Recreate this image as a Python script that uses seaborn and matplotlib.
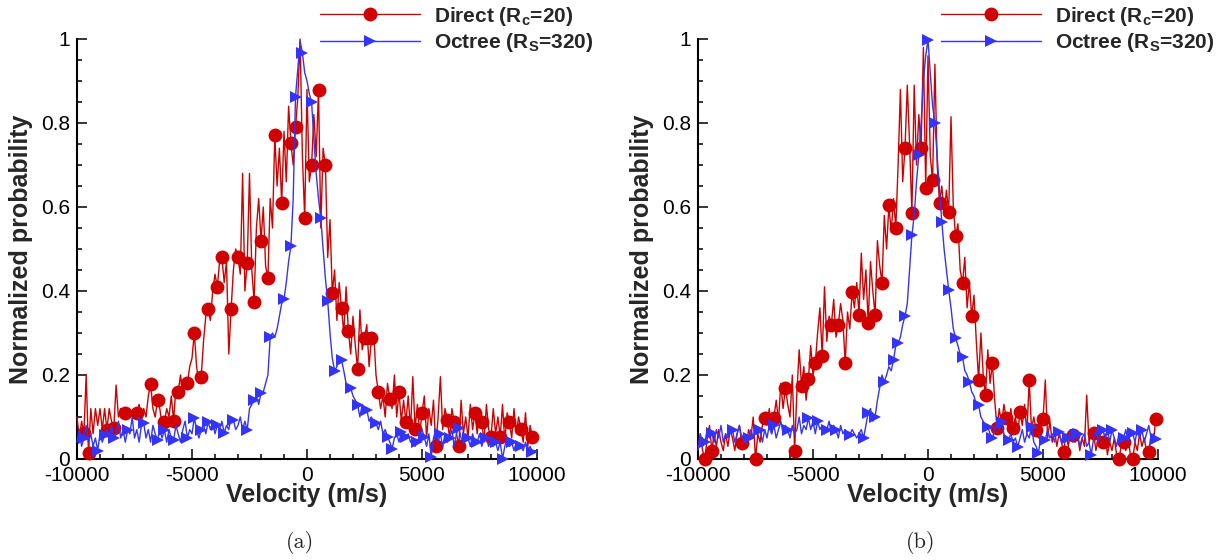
import numpy as np
import matplotlib
matplotlib.use("Agg")
import matplotlib.pyplot as plt
from matplotlib.lines import Line2D
from matplotlib.ticker import MultipleLocator, FuncFormatter
import seaborn as sns

# Velocity bins (m/s), 100 m/s apart
VELOCITY = np.linspace(-10000, 10000, 201)

# Panel (a): normalized velocity distributions
DIRECT_A = [
    0.10, 0.05, 0.09, 0.062, 0.20, 0.015, 0.12, 0.06, 0.12, 0.08,
    0.12, 0.07, 0.12, 0.069, 0.12, 0.09, 0.073, 0.176, 0.10, 0.12,
    0.11, 0.11, 0.12, 0.10, 0.11, 0.12, 0.11, 0.13, 0.09, 0.12,
    0.10, 0.15, 0.179, 0.12, 0.10, 0.14, 0.12, 0.08, 0.089, 0.12,
    0.10, 0.15, 0.09, 0.17, 0.16, 0.20, 0.15, 0.19, 0.18, 0.22,
    0.24, 0.30, 0.22, 0.18, 0.196, 0.28, 0.34, 0.357, 0.33, 0.40,
    0.44, 0.41, 0.47, 0.48, 0.42, 0.47, 0.25, 0.357, 0.45, 0.50,
    0.48, 0.44, 0.68, 0.40, 0.466, 0.68, 0.45, 0.375, 0.55, 0.62,
    0.52, 0.60, 0.46, 0.43, 0.62, 0.55, 0.771, 0.65, 0.74, 0.61,
    0.78, 0.66, 0.84, 0.752, 0.70, 0.79, 0.86, 1.00, 0.72, 0.574,
    0.88, 0.66, 0.70, 0.82, 0.72, 0.879, 0.55, 0.74, 0.70, 0.48,
    0.57, 0.395, 0.45, 0.33, 0.42, 0.36, 0.30, 0.41, 0.305, 0.25,
    0.34, 0.27, 0.214, 0.355, 0.26, 0.288, 0.32, 0.22, 0.288, 0.30,
    0.20, 0.16, 0.12, 0.15, 0.10, 0.18, 0.143, 0.12, 0.20, 0.10,
    0.16, 0.09, 0.14, 0.088, 0.15, 0.07, 0.196, 0.071, 0.13, 0.06,
    0.11, 0.15, 0.05, 0.12, 0.08, 0.14, 0.03, 0.10, 0.196, 0.07,
    0.12, 0.093, 0.05, 0.12, 0.088, 0.06, 0.03, 0.14, 0.06, 0.10,
    0.05, 0.13, 0.07, 0.11, 0.06, 0.12, 0.088, 0.04, 0.13, 0.07,
    0.052, 0.12, 0.06, 0.10, 0.052, 0.13, 0.04, 0.11, 0.088, 0.05,
    0.12, 0.06, 0.10, 0.071, 0.04, 0.11, 0.03, 0.08, 0.052, 0.04,
    0.05,
]
OCTREE_A = [
    0.04, 0.07, 0.03, 0.05, 0.08, 0.04, 0.06, 0.03, 0.05, 0.02,
    0.06, 0.04, 0.057, 0.07, 0.05, 0.08, 0.05, 0.06, 0.09, 0.05,
    0.07, 0.04, 0.069, 0.06, 0.10, 0.05, 0.07, 0.04, 0.08, 0.085,
    0.05, 0.07, 0.04, 0.08, 0.06, 0.045, 0.07, 0.05, 0.069, 0.04,
    0.07, 0.05, 0.045, 0.08, 0.06, 0.04, 0.07, 0.09, 0.05, 0.07,
    0.06, 0.098, 0.07, 0.05, 0.07, 0.08, 0.06, 0.088, 0.07, 0.09,
    0.06, 0.08, 0.07, 0.09, 0.062, 0.08, 0.07, 0.10, 0.093, 0.07,
    0.08, 0.10, 0.07, 0.09, 0.069, 0.12, 0.13, 0.14, 0.15, 0.13,
    0.157, 0.16, 0.18, 0.20, 0.29, 0.30, 0.29, 0.31, 0.34, 0.37,
    0.38, 0.42, 0.47, 0.507, 0.62, 0.862, 0.93, 0.995, 0.967, 0.92,
    0.90, 0.87, 0.85, 0.76, 0.68, 0.62, 0.574, 0.50, 0.43, 0.376,
    0.30, 0.24, 0.21, 0.22, 0.24, 0.235, 0.21, 0.18, 0.16, 0.17,
    0.15, 0.14, 0.128, 0.10, 0.13, 0.11, 0.117, 0.09, 0.10, 0.08,
    0.085, 0.07, 0.09, 0.06, 0.07, 0.053, 0.04, 0.025, 0.05, 0.06,
    0.04, 0.065, 0.05, 0.052, 0.06, 0.04, 0.05, 0.03, 0.04, 0.06,
    0.07, 0.052, 0.03, 0.06, 0.005, 0.05, 0.07, 0.04, 0.06, 0.03,
    0.06, 0.04, 0.05, 0.07, 0.03, 0.06, 0.074, 0.05, 0.04, 0.06,
    0.05, 0.03, 0.06, 0.04, 0.04, 0.06, 0.03, 0.05, 0.05, 0.03,
    0.05, 0.03, 0.04, 0.02, 0.04, 0.0, 0.03, 0.05, 0.03, 0.04,
    0.02, 0.04, 0.03, 0.03, 0.02, 0.04, 0.02, 0.03, 0.017, 0.02,
    0.02,
]

# Panel (b)
DIRECT_B = [
    0.03, 0.06, 0.02, 0.0, 0.05, 0.08, 0.02, 0.06, 0.03, 0.07,
    0.04, 0.02, 0.06, 0.03, 0.07, 0.05, 0.02, 0.06, 0.08, 0.038,
    0.06, 0.03, 0.07, 0.05, 0.10, 0.0, 0.06, 0.04, 0.08, 0.098,
    0.08, 0.12, 0.06, 0.098, 0.14, 0.09, 0.18, 0.12, 0.17, 0.13,
    0.10, 0.20, 0.02, 0.16, 0.26, 0.175, 0.22, 0.14, 0.19, 0.27,
    0.20, 0.228, 0.30, 0.36, 0.245, 0.41, 0.28, 0.34, 0.32, 0.38,
    0.29, 0.32, 0.37, 0.33, 0.228, 0.35, 0.31, 0.398, 0.36, 0.42,
    0.343, 0.49, 0.38, 0.45, 0.323, 0.47, 0.40, 0.343, 0.52, 0.46,
    0.42, 0.58, 0.50, 0.605, 0.54, 0.62, 0.55, 0.70, 0.88, 0.66,
    0.74, 0.89, 0.75, 0.585, 0.89, 0.70, 0.82, 0.74, 0.98, 0.645,
    0.96, 0.72, 0.664, 0.94, 0.70, 0.61, 0.65, 0.58, 0.64, 0.588,
    0.815, 0.60, 0.53, 0.56, 0.45, 0.418, 0.48, 0.36, 0.42, 0.34,
    0.39, 0.28, 0.188, 0.30, 0.20, 0.152, 0.26, 0.18, 0.228, 0.14,
    0.074, 0.12, 0.08, 0.13, 0.098, 0.07, 0.12, 0.074, 0.10, 0.06,
    0.112, 0.08, 0.13, 0.06, 0.188, 0.07, 0.10, 0.069, 0.05, 0.08,
    0.095, 0.188, 0.05, 0.09, 0.04, 0.07, 0.03, 0.06, 0.04, 0.017,
    0.06, 0.03, 0.07, 0.057, 0.04, 0.06, 0.02, 0.05, 0.03, 0.152,
    0.04, 0.06, 0.062, 0.02, 0.05, 0.03, 0.04, 0.06, 0.01, 0.04,
    0.02, 0.05, 0.01, 0.0, 0.03, 0.04, 0.02, 0.05, 0.01, 0.0,
    0.04, 0.02, 0.06, 0.03, 0.05, 0.02, 0.017, 0.06, 0.04, 0.095,
    0.08,
]
OCTREE_B = [
    0.02, 0.06, 0.03, 0.04, 0.07, 0.05, 0.062, 0.04, 0.07, 0.05,
    0.08, 0.04, 0.06, 0.05, 0.07, 0.069, 0.04, 0.06, 0.08, 0.05,
    0.06, 0.04, 0.05, 0.07, 0.05, 0.08, 0.06, 0.069, 0.04, 0.07,
    0.05, 0.08, 0.06, 0.08, 0.05, 0.07, 0.09, 0.06, 0.08, 0.07,
    0.05, 0.08, 0.06, 0.07, 0.10, 0.06, 0.08, 0.07, 0.098, 0.07,
    0.09, 0.06, 0.09, 0.07, 0.08, 0.06, 0.069, 0.09, 0.06, 0.08,
    0.07, 0.05, 0.08, 0.06, 0.07, 0.05, 0.057, 0.07, 0.06, 0.05,
    0.06, 0.07, 0.05, 0.08, 0.11, 0.12, 0.09, 0.10, 0.14, 0.17,
    0.20, 0.184, 0.20, 0.22, 0.21, 0.236, 0.27, 0.276, 0.29, 0.32,
    0.34, 0.37, 0.45, 0.533, 0.58, 0.66, 0.723, 0.80, 0.90, 0.96,
    0.998, 0.92, 0.84, 0.80, 0.72, 0.64, 0.565, 0.50, 0.45, 0.402,
    0.36, 0.31, 0.288, 0.27, 0.25, 0.243, 0.21, 0.20, 0.184, 0.16,
    0.15, 0.13, 0.128, 0.10, 0.09, 0.08, 0.076, 0.06, 0.05, 0.07,
    0.09, 0.07, 0.088, 0.06, 0.05, 0.045, 0.06, 0.04, 0.05, 0.029,
    0.05, 0.07, 0.04, 0.06, 0.05, 0.076, 0.04, 0.03, 0.014, 0.05,
    0.04, 0.045, 0.07, 0.05, 0.06, 0.04, 0.07, 0.064, 0.04, 0.06,
    0.05, 0.05, 0.07, 0.04, 0.06, 0.06, 0.03, 0.05, 0.06, 0.03,
    0.04, 0.01, 0.05, 0.07, 0.04, 0.06, 0.069, 0.05, 0.07, 0.04,
    0.069, 0.05, 0.03, 0.06, 0.04, 0.05, 0.07, 0.04, 0.06, 0.062,
    0.04, 0.07, 0.05, 0.069, 0.04, 0.06, 0.08, 0.05, 0.06, 0.048,
    0.05,
]

# Velocities (m/s) at which symbols are drawn on each curve
DIRECT_A_MARKS = [-9700, -9500, -8700, -8400, -7900, -7400, -6800, -6500, -6200,
                  -5800, -5600, -5200, -4900, -4600, -4300, -3900, -3700, -3300,
                  -3000, -2600, -2300, -2000, -1700, -1400, -1100, -700, -500,
                  -100, 200, 500, 800, 1100, 1500, 1800, 2200, 2500, 2800, 3100,
                  3600, 4000, 4300, 4700, 5000, 5600, 6100, 6400, 6600, 7300,
                  7600, 8000, 8400, 8800, 9300, 9800]
OCTREE_A_MARKS = [-9700, -9100, -8800, -8400, -7800, -7100, -6500, -6200, -5800,
                  -5200, -4900, -4600, -4300, -3900, -3600, -3200, -2600, -2300,
                  -2000, -1600, -1000, -700, -500, -200, 200, 600, 900, 1200,
                  1500, 1900, 2200, 2600, 3000, 3500, 3700, 4100, 4300, 4800,
                  5100, 5400, 5800, 6200, 6600, 7000, 7400, 7800, 8200, 8500,
                  8900, 9300, 9800]
DIRECT_B_MARKS = [-9700, -9400, -8100, -7500, -7100, -6700, -6200, -5800, -5500,
                  -5200, -4900, -4600, -4200, -3900, -3600, -3300, -3000, -2600,
                  -2300, -2000, -1700, -1400, -1000, -700, -300, -100, 200, 500,
                  900, 1200, 1500, 1900, 2200, 2500, 2800, 3000, 3400, 3700,
                  4000, 4400, 4700, 5000, 5900, 6300, 7200, 7600, 8300, 8500,
                  8900, 9600, 9900]
OCTREE_B_MARKS = [-9700, -9400, -8500, -7800, -7300, -6700, -6100, -5200, -4800,
                  -4400, -4000, -3400, -2800, -2600, -2300, -1900, -1500, -1300,
                  -1000, -700, -400, 0, 300, 600, 900, 1200, 1500, 1800, 2200,
                  2600, 2800, 3200, 3500, 3900, 4500, 4800, 5100, 5700, 6100,
                  6500, 7100, 7600, 8000, 8500, 8900, 9300, 9900]

LABEL_DIRECT = r"Direct (R$_\mathbf{c}$=20)"
LABEL_OCTREE = r"Octree (R$_\mathbf{S}$=320)"
PANEL_TAGS = ["(a)", "(b)"]

RED = "#D00000"
BLUE = "#3434F8"

sns.set_theme(style="ticks")
plt.rcParams["font.family"] = ["Liberation Sans", "DejaVu Sans"]
plt.rcParams["mathtext.fontset"] = "custom"
plt.rcParams["mathtext.bf"] = "Liberation Sans:bold"
plt.rcParams["mathtext.rm"] = "Liberation Sans:bold"
plt.rcParams["axes.unicode_minus"] = False


def mark_index(vels):
    return [int(round((v - VELOCITY[0]) / 100.0)) for v in vels]


fig = plt.figure(figsize=(12.29, 5.6), dpi=100)
W, H = 1229.0, 560.0
axes = [fig.add_axes([77 / W, 101 / H, 460 / W, 420 / H]),
        fig.add_axes([698 / W, 101 / H, 460 / W, 420 / H])]

panels = [(DIRECT_A, DIRECT_A_MARKS, OCTREE_A, OCTREE_A_MARKS),
          (DIRECT_B, DIRECT_B_MARKS, OCTREE_B, OCTREE_B_MARKS)]

for ax, (d, dm, o, om), tag in zip(axes, panels, PANEL_TAGS):
    sns.lineplot(x=VELOCITY, y=d, ax=ax, color=RED, lw=1.0, errorbar=None,
                 marker="o", markersize=10, markevery=mark_index(dm),
                 markeredgecolor=RED, markerfacecolor=RED, markeredgewidth=0,
                 legend=False, clip_on=False, zorder=3)
    sns.lineplot(x=VELOCITY, y=o, ax=ax, color=BLUE, lw=1.0, errorbar=None,
                 marker=">", markersize=9, markevery=mark_index(om),
                 markeredgecolor=BLUE, markerfacecolor=BLUE, markeredgewidth=0,
                 legend=False, clip_on=False, zorder=4)

    ax.set_xlim(-10000, 10000)
    ax.set_ylim(0, 1)
    ax.xaxis.set_major_locator(MultipleLocator(5000))
    ax.xaxis.set_minor_locator(MultipleLocator(1000))
    ax.yaxis.set_major_locator(MultipleLocator(0.2))
    ax.yaxis.set_minor_locator(MultipleLocator(0.05))
    ax.yaxis.set_major_formatter(FuncFormatter(lambda v, p: f"{v:g}"))
    ax.xaxis.set_major_formatter(FuncFormatter(lambda v, p: f"{v:g}"))
    ax.tick_params(which="both", direction="in", colors="black", width=1.1,
                   labelsize=15)
    ax.tick_params(which="major", length=7.5, pad=5)
    ax.tick_params(which="minor", length=3.8)
    sns.despine(ax=ax)
    for side in ("left", "bottom"):
        ax.spines[side].set_linewidth(1.5)
        ax.spines[side].set_color("black")
    ax.set_facecolor("white")

    ax.set_xlabel("Velocity (m/s)", fontsize=18, fontweight="bold")
    ax.set_ylabel("Normalized probability", fontsize=18, fontweight="bold")
    ax.xaxis.set_label_coords(0.5, -0.057)
    ax.yaxis.set_label_coords(-0.095, 0.5)

    handles = [
        Line2D([0, 1], [0, 0], color=RED, lw=1.0, marker="o", markersize=10,
               markeredgewidth=0),
        Line2D([0, 1], [0, 0], color=BLUE, lw=1.0, marker=">", markersize=9,
               markeredgewidth=0),
    ]
    leg = ax.legend(handles, [LABEL_DIRECT, LABEL_OCTREE], loc="upper left",
                    bbox_to_anchor=(0.528, 1.082), frameon=False, numpoints=1,
                    borderaxespad=0, borderpad=0, handlelength=4.8,
                    handletextpad=0.7, labelspacing=0.18,
                    prop={"size": 15, "weight": "bold"})
    leg.set_clip_on(False)

    x0 = ax.get_position().x0 * W
    fig.text((x0 + 223) / W, 1 - 543 / H, tag, ha="center", va="center",
             fontsize=16, family=["cmr10", "DejaVu Serif"])

fig.savefig("out.png", dpi=100, facecolor="white")
